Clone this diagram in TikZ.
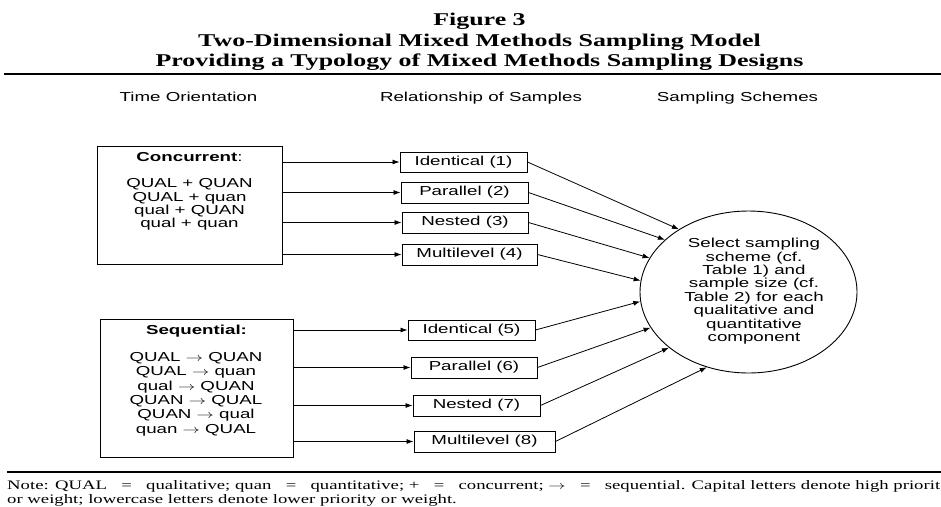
\documentclass[tikz,border=0pt]{standalone}
\usepackage{fontspec}
\usepackage{graphicx}
\setmainfont{Liberation Serif}[FakeStretch=1.44]
\setsansfont{Liberation Sans}[FakeStretch=1.44]
\usetikzlibrary{shapes.geometric,arrows.meta}
\newcommand{\myarr}{\scalebox{1.44}[1]{$\rightarrow$}}
\newcommand{\eqgap}{\hspace{5pt plus 1fill}}
\begin{document}
\begin{tikzpicture}[x=1pt,y=-1pt,
  lab/.style={font=\sffamily\fontsize{13}{13}\selectfont, text=black},
  smallbox/.style={draw, line width=0.9pt, rectangle, inner sep=0pt, minimum height=21pt, lab},
  bigbox/.style={draw, line width=0.9pt, rectangle, inner sep=0pt},
  arr/.style={-{Latex[length=7pt,width=5pt]}, line width=0.8pt},
  ttl/.style={font=\rmfamily\bfseries\fontsize{18}{18}\selectfont, anchor=base},
  note/.style={font=\rmfamily\fontsize{13}{13}\selectfont, anchor=base west, inner sep=0pt},
  rule/.style={line width=2.2pt}
]
\useasboundingbox (0,0) rectangle (941,506);

% title
\node[ttl] (t1) at (479.5,25) {Figure 3};
\node[ttl] (t2) at (479.5,46) {Two-Dimensional Mixed Methods Sampling Model};
\node[ttl] (t3) at (479.5,66) {Providing a Typology of Mixed Methods Sampling Designs};
\coordinate (r1a) at (4,74);
\coordinate (r1b) at (941,74);
\draw[rule] (r1a) -- (r1b);

% headers
\node[lab, anchor=base] (h1) at (188.5,101.6) {Time Orientation};
\node[lab, anchor=base] (h2) at (481,101.6) {Relationship of Samples};
\node[lab, anchor=base] (h3) at (737.5,101.6) {Sampling Schemes};

% concurrent box
\node[bigbox, minimum width=185pt, minimum height=118pt] (conc) at (189.5,205) {};
\node[lab, anchor=base] (ct) at (189.5,161.7) {\textbf{Concurrent}:};
\foreach \t [count=\i] in {{QUAL + QUAN},{QUAL + quan},{qual + QUAN},{qual + quan}}
  \node[lab, anchor=base] (cl\i) at ({189.5},{187.7+(\i-1)*13.4}) {\t};

% sequential box
\node[bigbox, minimum width=193pt, minimum height=138pt] (seq) at (196.5,388) {};
\node[lab, anchor=base] (st) at (196.5,334.7) {\textbf{Sequential:}};
\foreach \t [count=\i] in {{QUAL \myarr{} QUAN},{QUAL \myarr{} quan},{qual \myarr{} QUAN},{QUAN \myarr{} QUAL},{QUAN \myarr{} qual},{quan \myarr{} QUAL}}
  \node[lab, anchor=base] (sl\i) at ({196},{361.7+(\i-1)*14.27}) {\t};

% relationship boxes
\node[smallbox, minimum width=127pt, minimum height=20pt] (b1) at (463.5,162) {Identical (1)};
\node[smallbox, minimum width=127pt] (b2) at (464.5,192.5) {Parallel (2)};
\node[smallbox, minimum width=126pt] (b3) at (465,222.5) {Nested (3)};
\node[smallbox, minimum width=135pt] (b4) at (469.5,254.5) {Multilevel (4)};
\node[smallbox, minimum width=127pt, minimum height=20pt] (b5) at (471.5,330) {Identical (5)};
\node[smallbox, minimum width=126pt] (b6) at (474,367.5) {Parallel (6)};
\node[smallbox, minimum width=127pt] (b7) at (476.5,405.5) {Nested (7)};
\node[smallbox, minimum width=141pt] (b8) at (484.5,441.5) {Multilevel (8)};

% arrows from time orientation boxes
\foreach \b in {b1,b2,b3,b4}
  \draw[arr] (conc.east |- \b.west) -- (\b.west);
\foreach \b in {b5,b6,b7,b8}
  \draw[arr] (seq.east |- \b.west) -- (\b.west);

% sampling scheme ellipse
\node[draw, ellipse, line width=0.9pt, minimum width=217pt, minimum height=162pt, inner sep=0pt] (circ) at (748.5,292) {};
\foreach \t [count=\i] in {{Select sampling},{scheme (cf.},{Table 1) and},{sample size (cf.},{Table 2) for each},{qualitative and},{quantitative},{component}}
  \node[lab, anchor=base] (s\i) at ({754},{247.6+(\i-1)*13.4}) {\t};

\draw[arr] (b1.east) -- (circ.138.4);
\draw[arr] (b2.east) -- (circ.148.9);
\draw[arr] (b3.east) -- (circ.161.6);
\draw[arr] (b4.east) -- (circ.174.7);
\draw[arr] (b5.east) -- (circ.185.8);
\draw[arr] (b6.east) -- (circ.200.3);
\draw[arr] (b7.east) -- (circ.215.5);
\draw[arr] (b8.east) -- (circ.241.3);

% note
\coordinate (r2a) at (7,472);
\coordinate (r2b) at (941,472);
\draw[line width=1.8pt] (r2a) -- (r2b);
\node[note] (n1) at (7,489) {\makebox[933pt][s]{Note: QUAL\eqgap=\eqgap qualitative; quan\eqgap=\eqgap quantitative; +\eqgap=\eqgap concurrent; \myarr\eqgap=\eqgap sequential. Capital letters denote high priorit}};
\node[note] (n2) at (7,503) {or weight; lowercase letters denote lower priority or weight.};
\end{tikzpicture}
\end{document}
